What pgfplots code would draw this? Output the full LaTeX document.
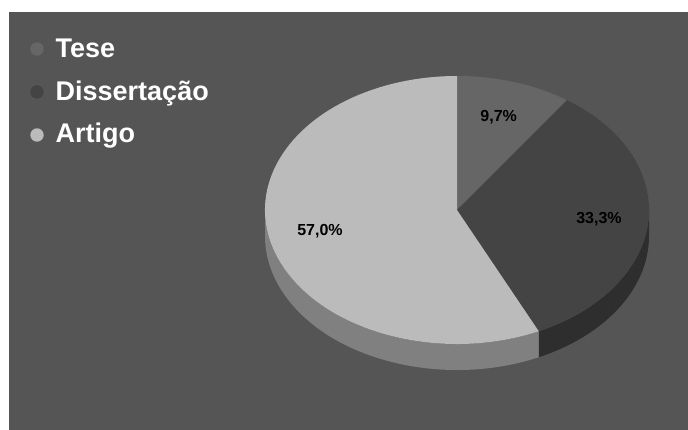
\documentclass[border=0pt]{standalone}
\usepackage{fontspec}
\setmainfont{Liberation Sans}
\usepackage{pgfplots}
\usepackage{pgfplotstable}
\pgfplotsset{compat=1.18}
\definecolor{bg}{HTML}{555555}
\definecolor{cTese}{HTML}{666666}
\definecolor{cDiss}{HTML}{444444}
\definecolor{cArt}{HTML}{BBBBBB}
\definecolor{sDiss}{HTML}{2E2E2E}
\definecolor{sArt}{HTML}{808080}

\pgfplotstableread{
label value
Tese 9.7
Dissertacao 33.3
Artigo 57.0
}\piedata

\begin{document}
\begin{tikzpicture}
\pgfplotstablegetelem{0}{value}\of\piedata \pgfmathsetmacro{\va}{\pgfplotsretval}
\pgfplotstablegetelem{1}{value}\of\piedata \pgfmathsetmacro{\vb}{\pgfplotsretval}
\pgfplotstablegetelem{2}{value}\of\piedata \pgfmathsetmacro{\vc}{\pgfplotsretval}
\pgfmathsetmacro{\aA}{90}
\pgfmathsetmacro{\aB}{90-3.6*\va}
\pgfmathsetmacro{\aC}{\aB-3.6*\vb}
\pgfmathsetmacro{\aD}{\aC-3.6*\vc}
\begin{axis}[at={(0,0)}, anchor=south west, scale only axis, width=688pt, height=430pt,
  xmin=0, xmax=688, ymin=0, ymax=430, hide axis, clip=false]
  \fill[white] (axis cs:0,0) rectangle (axis cs:688,430);
  \fill[bg] (axis cs:9,0) rectangle (axis cs:688,418);
  % sides
  \fill[sArt] (axis cs:457,220) ++(-180:192pt and 134pt)
     arc[start angle=-180, end angle=\aC, x radius=192pt, y radius=134pt]
     -- ++(0,-26pt)
     arc[start angle=\aC, end angle=-180, x radius=192pt, y radius=134pt] -- cycle;
  \fill[sDiss] (axis cs:457,220) ++(\aC:192pt and 134pt)
     arc[start angle=\aC, end angle=0, x radius=192pt, y radius=134pt]
     -- ++(0,-26pt)
     arc[start angle=0, end angle=\aC, x radius=192pt, y radius=134pt] -- cycle;
  % top
  \fill[cTese] (axis cs:457,220) -- ++(\aA:192pt and 134pt)
     arc[start angle=\aA, end angle=\aB, x radius=192pt, y radius=134pt] -- cycle;
  \fill[cDiss] (axis cs:457,220) -- ++(\aB:192pt and 134pt)
     arc[start angle=\aB, end angle=\aC, x radius=192pt, y radius=134pt] -- cycle;
  \fill[cArt] (axis cs:457,220) -- ++(\aC:192pt and 134pt)
     arc[start angle=\aC, end angle=\aD, x radius=192pt, y radius=134pt] -- cycle;
  % labels
  \node[font=\fontsize{16}{18}\selectfont\bfseries, text=black] at (axis cs:498.7,313) {9,7\%};
  \node[font=\fontsize{16}{18}\selectfont\bfseries, text=black] at (axis cs:599,211) {33,3\%};
  \node[font=\fontsize{16}{18}\selectfont\bfseries, text=black] at (axis cs:320,199) {57,0\%};
  % legend
  \fill[cTese] (axis cs:37,381) circle[radius=6.7pt];
  \fill[cDiss] (axis cs:37,338) circle[radius=6.7pt];
  \fill[cArt] (axis cs:37,295) circle[radius=6.7pt];
  \node[anchor=base west, inner sep=0pt, text=white, font=\fontsize{27}{30}\selectfont\bfseries] at (axis cs:55.5,372) {Tese};
  \node[anchor=base west, inner sep=0pt, text=white, font=\fontsize{27}{30}\selectfont\bfseries] at (axis cs:55.5,329.5) {Dissertação};
  \node[anchor=base west, inner sep=0pt, text=white, font=\fontsize{27}{30}\selectfont\bfseries] at (axis cs:55.5,287) {Artigo};
\end{axis}
\end{tikzpicture}
\end{document}
